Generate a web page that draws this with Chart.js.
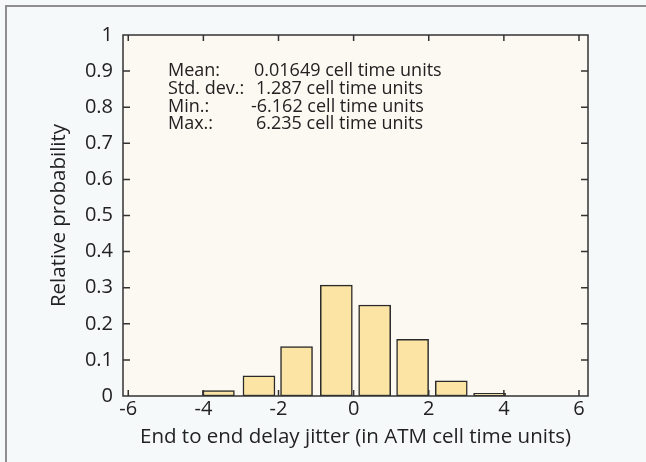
<!DOCTYPE html>
<html>
<head>
<meta charset="utf-8">
<script src="https://cdn.jsdelivr.net/npm/chart.js@4.4.0/dist/chart.umd.min.js"></script>
<style>
  html, body { margin: 0; padding: 0; background: #f6f9fa; overflow: hidden; }
  canvas { display: block; }
</style>
</head>
<body>
<canvas id="jitterChart" width="646" height="462"></canvas>
<script>
// histogram bins (centre of each bar) and their relative probability
const binCenters = [-3.60, -2.52, -1.52, -0.46, 0.56, 1.57, 2.60, 3.62];
const probabilities = [0.015, 0.056, 0.137, 0.307, 0.252, 0.157, 0.042, 0.0075];
const xTicks = [-6, -4, -2, 0, 2, 4, 6];
const yTicks = [0, 0.1, 0.2, 0.3, 0.4, 0.5, 0.6, 0.7, 0.8, 0.9, 1];
const statLabels = ['Mean:', 'Std. dev.:', 'Min.:', 'Max.:'];
const statValues = ['0.01649 cell time units', '1.287 cell time units', '-6.162 cell time units', '6.235 cell time units'];

const FONT = 'Open Sans';
const INK = '#222222';

const framePlugin = {
    id: 'plotFrame',
    beforeDraw(chart) {
        // outer panel edge (only top and left are inside the picture)
        const { ctx, width, height } = chart;
        ctx.save();
        ctx.strokeStyle = '#8e8e8e';
        ctx.lineWidth = 2;
        ctx.beginPath();
        ctx.moveTo(6, height + 5); ctx.lineTo(6, 6); ctx.lineTo(width + 5, 6);
        ctx.stroke();
        ctx.restore();
    },
    beforeDatasetsDraw(chart) {
        const { ctx, chartArea: a } = chart;
        ctx.save();
        ctx.fillStyle = '#fcf8f2';
        ctx.fillRect(a.left, a.top, a.right - a.left, a.bottom - a.top);
        ctx.restore();
    },
    afterDatasetsDraw(chart) {
        const { ctx, chartArea: a } = chart;
        const xs = chart.scales.x, ys = chart.scales.y;
        ctx.save();
        ctx.strokeStyle = '#333333';
        ctx.lineWidth = 1.5;
        ctx.strokeRect(a.left, a.top, a.right - a.left, a.bottom - a.top);
        ctx.beginPath();
        xTicks.forEach(v => {
            const px = xs.getPixelForValue(v);
            if (px <= a.left + 2) return;
            ctx.moveTo(px, a.bottom); ctx.lineTo(px, a.bottom - 6);
            ctx.moveTo(px, a.top); ctx.lineTo(px, a.top + 6);
        });
        yTicks.forEach(v => {
            const py = ys.getPixelForValue(v);
            if (py <= a.top + 2 || py >= a.bottom - 2) return;
            ctx.moveTo(a.left, py); ctx.lineTo(a.left + 7, py);
            ctx.moveTo(a.right, py); ctx.lineTo(a.right - 7, py);
        });
        ctx.stroke();
        ctx.restore();
    },
    afterDraw(chart) {
        const { ctx, chartArea: a } = chart;
        const valueX = [131, 133, 128, 133];
        ctx.save();
        ctx.fillStyle = INK;
        ctx.font = '18px "' + FONT + '"';
        ctx.textBaseline = 'alphabetic';
        statLabels.forEach((lab, i) => {
            const y = a.top + 41 + i * 17.8;
            ctx.fillText(lab, a.left + 45, y);
            ctx.fillText(statValues[i], a.left + valueX[i], y);
        });
        ctx.restore();
    }
};

new Chart(document.getElementById('jitterChart'), {
    type: 'bar',
    data: {
        datasets: [{
            data: binCenters.map((x, i) => ({ x: x, y: probabilities[i] })),
            backgroundColor: '#fbe4a4',
            borderColor: '#2a2a2a',
            borderWidth: 1.5,
            barThickness: 32,
            borderSkipped: false
        }]
    },
    options: {
        responsive: false,
        animation: false,
        layout: { padding: { left: 0, top: 35, right: 58, bottom: 0 } },
        plugins: { legend: { display: false }, tooltip: { enabled: false } },
        scales: {
            x: {
                type: 'linear',
                offset: false,
                min: -6.14,
                max: 6.24,
                grid: { display: false, drawTicks: false },
                border: { display: false },
                afterBuildTicks: s => { s.ticks = xTicks.map(v => ({ value: v })); },
                afterFit: s => { s.height = 66; },
                ticks: { color: INK, font: { family: FONT, size: 20 }, padding: 1, maxRotation: 0,
                         callback: v => String(v) },
                title: {
                    display: true,
                    text: 'End to end delay jitter (in ATM cell time units)',
                    color: INK,
                    font: { family: FONT, size: 20.5 },
                    padding: { top: 0, bottom: 13 }
                }
            },
            y: {
                min: 0,
                max: 1,
                grid: { display: false, drawTicks: false },
                border: { display: false },
                afterBuildTicks: s => { s.ticks = yTicks.map(v => ({ value: v })); },
                afterFit: s => { s.width = 123; },
                ticks: { color: INK, font: { family: FONT, size: 20 }, padding: 10,
                         callback: v => String(v) },
                title: {
                    display: true,
                    text: 'Relative probability',
                    color: INK,
                    font: { family: FONT, size: 20.5 },
                    padding: { top: 47, bottom: 0 }
                }
            }
        }
    },
    plugins: [framePlugin]
});
</script>
</body>
</html>
